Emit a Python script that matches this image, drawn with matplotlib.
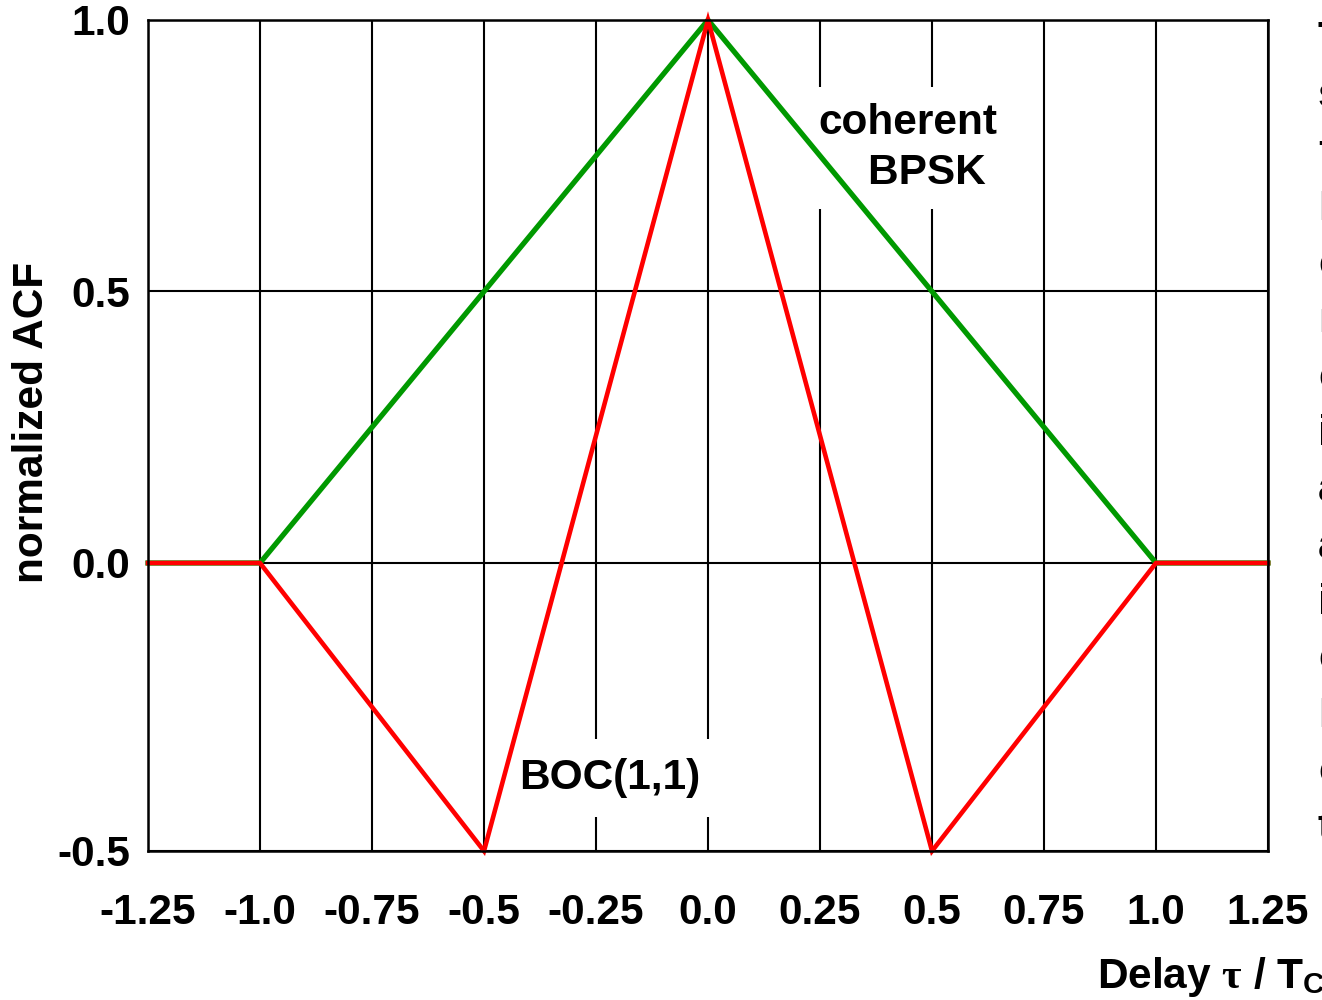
import matplotlib
matplotlib.use("Agg")
import matplotlib.pyplot as plt
import numpy as np

plt.rcParams['font.family'] = ['Liberation Sans', 'DejaVu Sans']
plt.rcParams['font.weight'] = 'bold'
plt.rcParams['mathtext.fontset'] = 'custom'
plt.rcParams['mathtext.rm'] = 'Liberation Sans:bold'
plt.rcParams['mathtext.bf'] = 'Liberation Sans:bold'
plt.rcParams['mathtext.it'] = 'Liberation Serif'

# data
tau_bpsk = [-1.25, -1.0, 0.0, 1.0, 1.25]
acf_bpsk = [0.0, 0.0, 1.0, 0.0, 0.0]
tau_boc = [-1.25, -1.0, -0.5, 0.0, 0.5, 1.0, 1.25]
acf_boc = [0.0, 0.0, -0.5, 1.0, -0.5, 0.0, 0.0]
xticks = [-1.25, -1.0, -0.75, -0.5, -0.25, 0.0, 0.25, 0.5, 0.75, 1.0, 1.25]
xticklabels = ['-1.25', '-1.0', '-0.75', '-0.5', '-0.25', '0.0', '0.25', '0.5', '0.75', '1.0', '1.25']
yticks = [-0.5, 0.0, 0.5, 1.0]
yticklabels = ['-0.5', '0.0', '0.5', '1.0']
side_words = ['The', 'same', 'for', 'BOC', 'code', 'modulation', 'curve', 'in', 'and', 'also',
              'is', 'correlated', 'BPSK', 'combined', 'the']

W, H = 1322, 1000
fig = plt.figure(figsize=(W / 100, H / 100), dpi=100)
ax = fig.add_axes([148 / W, 1 - 851 / H, (1268 - 148) / W, (851 - 20) / H])

# the original axis is stretched a little more below zero than above it
POS, NEG = 543.0, 576.0


def fwd(y):
    y = np.asarray(y, dtype=float)
    return np.where(y >= 0, y * POS, y * NEG)


def inv(y):
    y = np.asarray(y, dtype=float)
    return np.where(y >= 0, y / POS, y / NEG)


ax.set_yscale('function', functions=(fwd, inv))

FS = 30.5
ax.set_xlim(-1.25, 1.25)
ax.set_ylim(-0.5, 1.0)
ax.set_xticks(xticks)
ax.set_xticklabels(xticklabels, fontsize=FS, fontweight='bold')
ax.set_yticks(yticks)
ax.set_yticklabels(yticklabels, fontsize=FS, fontweight='bold')
ax.minorticks_off()
ax.tick_params(axis='both', length=0)
ax.tick_params(axis='x', pad=30)
ax.tick_params(axis='y', pad=13)
ax.grid(True, color='black', linewidth=1.5, zorder=0)
ax.set_axisbelow(True)
for s in ax.spines.values():
    s.set_linewidth(1.8)
    s.set_zorder(5)

ax.plot(tau_bpsk, acf_bpsk, color='#009900', linewidth=3.8, zorder=3, clip_on=False,
        solid_joinstyle='miter')
ax.plot(tau_boc, acf_boc, color='#ff0000', linewidth=3.3, zorder=4, clip_on=False,
        solid_joinstyle='miter')

ax.text(0.446, 0.765, 'coherent\nBPSK ', fontsize=FS, fontweight='bold', ha='center', va='center',
        multialignment='right', linespacing=1.32, zorder=2,
        bbox=dict(boxstyle='square,pad=0.38', facecolor='white', edgecolor='none'))
ax.text(-0.219, -0.373, 'BOC(1,1)', fontsize=FS, fontweight='bold', ha='center', va='center',
        zorder=2, bbox=dict(boxstyle='square,pad=0.45', facecolor='white', edgecolor='none'))

ax.set_ylabel('normalized ACF', fontsize=FS, fontweight='bold', va='center')
ax.yaxis.set_label_coords((32 - 148) / 1120, (851 - 422) / 831)

fig.text(1097 / W, 1 - 977 / H, r'Delay $\tau$ / T$_\mathrm{C}$', fontsize=FS, fontweight='bold',
         ha='left', va='center')

for i, w in enumerate(side_words):
    yc = 40 + i * 56.3
    fig.text(1318 / W, 1 - yc / H, w, fontsize=FS, fontweight='bold', ha='left', va='center')

fig.savefig('out.png', dpi=100, facecolor='white')
